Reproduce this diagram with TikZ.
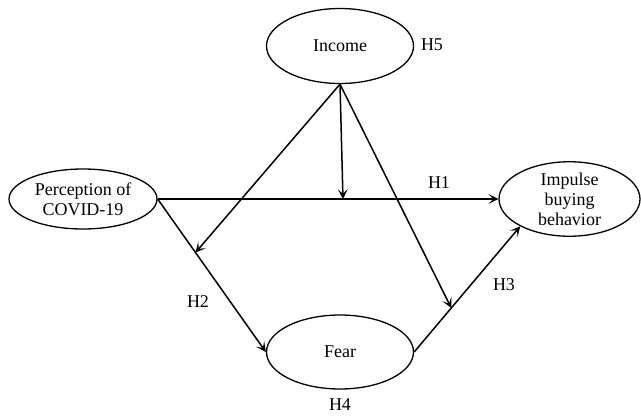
\documentclass[tikz,border=0pt]{standalone}
\usepackage{fontspec}
\setmainfont{Liberation Serif}
\usetikzlibrary{shapes.geometric,arrows.meta,calc}
\begin{document}
\begin{tikzpicture}[x=1pt,y=-1pt,
  var/.style={draw,ellipse,line width=1.3pt,inner sep=0pt,align=center,font=\fontsize{18}{20}\selectfont},
  lbl/.style={font=\fontsize{18}{20}\selectfont,inner sep=0pt},
  conn/.style={line width=1.5pt},
  arr/.style={conn,-{Stealth[length=10pt,width=10pt,inset=5pt]}}]
\useasboundingbox (0,0) rectangle (641,418);
\node[var,minimum width=147pt,minimum height=75pt] (inc) at (340,46) {Income};
\node[var,minimum width=148pt,minimum height=60pt] (per) at (83,199) {Perception of\\COVID-19};
\node[var,minimum width=141pt,minimum height=74pt] (imp) at (569.5,199) {Impulse\\buying\\behavior};
\node[var,minimum width=147pt,minimum height=74pt] (fear) at (340,352) {Fear};
\coordinate (m1) at ($(per.east)!0.35!(fear.west)$);
\coordinate (m2) at ($(per.east)!0.544!(imp.west)$);
\coordinate (m3) at ($(fear.east)!0.35!(imp.209)$);
\draw[arr] (per.east) -- (imp.west);
\draw[arr] (per.east) -- (fear.west);
\draw[arr] (fear.east) -- (imp.209);
\draw[arr] (inc.south) -- (m1);
\draw[arr] (inc.south) -- (m2);
\draw[arr] (inc.south) -- (m3);
\node[lbl] (h5) at (432,45) {H5};
\node[lbl] (h1) at (439,183) {H1};
\node[lbl] (h2) at (198,302) {H2};
\node[lbl] (h3) at (504,285) {H3};
\node[lbl] (h4) at (340,405) {H4};
\end{tikzpicture}
\end{document}
